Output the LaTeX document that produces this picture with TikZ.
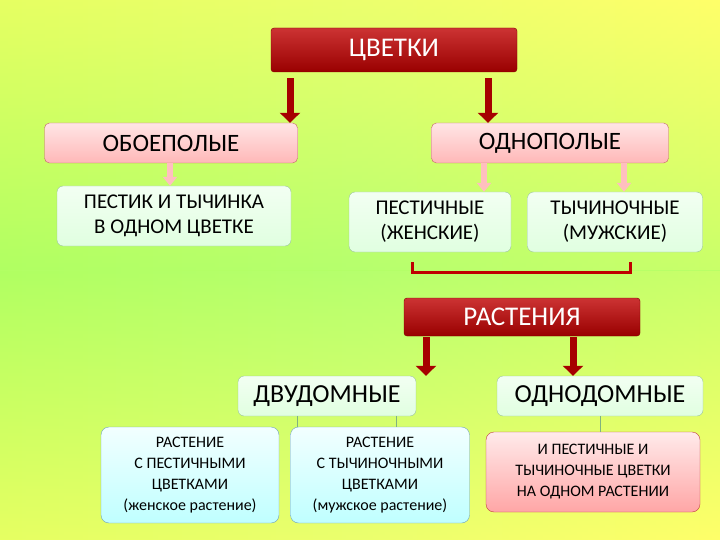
\documentclass[tikz,border=0pt]{standalone}
\usepackage{fontspec}
\usetikzlibrary{arrows.meta}
\setmainfont{Carlito}
\begin{document}
\begin{tikzpicture}[x=1pt,y=-1pt,
 redbox/.style={draw=red!50!black,rounded corners=3pt,top color=red!75!black!80,bottom color=red!60!black,text=white,font=\fontsize{27}{28}\selectfont},
 pinkbox/.style={draw=red!60!black!60,rounded corners=5pt,top color=red!10,bottom color=red!28,text=black,font=\fontsize{25}{26}\selectfont},
 greenbox/.style={draw=green!40!black!40,rounded corners=6pt,top color=white!95!green,bottom color=green!12,text=black,font=\fontsize{21}{25}\selectfont,align=center},
 bluebox/.style={draw=cyan!40!gray,rounded corners=8pt,top color=cyan!5,bottom color=cyan!25,text=black,font=\fontsize{16}{21}\selectfont,align=center},
 pinkbig/.style={draw=red!50!gray,rounded corners=8pt,top color=red!8,bottom color=red!35,text=black,font=\fontsize{16}{21}\selectfont,align=center},
 bigarrow/.style={-{Triangle[width=20pt,length=10pt]},line width=7pt,red!65!black},
 smallarrow/.style={-{Triangle[width=14pt,length=9pt,fill=red!25]},line width=6pt,draw=red!25},
 thin/.style={draw=green!40!black!50,line width=1pt}]
\useasboundingbox (0,0) rectangle (720,540);
\shade[left color=green!50!yellow!65, right color=yellow!55, middle color=yellow!50!green!50] (0,0) rectangle (720,540);
\shade[top color=yellow!60, bottom color=green!50!yellow!60,opacity=0.7] (0,0) rectangle (720,270);
\shade[top color=green!50!yellow!60, bottom color=yellow!60,opacity=0.7] (0,270) rectangle (720,540);
\node[redbox,minimum width=246pt,minimum height=44pt] (c) at (394,50) {ЦВЕТКИ};
\node[pinkbox,minimum width=253pt,minimum height=40pt] (ob) at (171,143) {ОБОЕПОЛЫЕ};
\node[pinkbox,minimum width=237pt,minimum height=40pt] (od) at (550,143) {ОДНОПОЛЫЕ};
\node[greenbox,minimum width=234pt,minimum height=60pt] (pt) at (174,216) {ПЕСТИК И ТЫЧИНКА\\В ОДНОМ ЦВЕТКЕ};
\node[greenbox,minimum width=162pt,minimum height=60pt] (pe) at (430,222) {ПЕСТИЧНЫЕ\\(ЖЕНСКИЕ)};
\node[greenbox,minimum width=175pt,minimum height=60pt] (ty) at (615,222) {ТЫЧИНОЧНЫЕ\\(МУЖСКИЕ)};
\node[redbox,minimum width=236pt,minimum height=38pt] (r) at (522,317) {РАСТЕНИЯ};
\node[greenbox,font=\fontsize{26}{27}\selectfont,minimum width=178pt,minimum height=40pt] (dv) at (327,396) {ДВУДОМНЫЕ};
\node[greenbox,font=\fontsize{26}{27}\selectfont,minimum width=206pt,minimum height=40pt] (on) at (600,396) {ОДНОДОМНЫЕ};
\node[bluebox,minimum width=178pt,minimum height=96pt] (b1) at (190,475) {РАСТЕНИЕ\\С ПЕСТИЧНЫМИ\\ЦВЕТКАМИ\\(женское растение)};
\node[bluebox,minimum width=179pt,minimum height=96pt] (b2) at (380,475) {РАСТЕНИЕ\\С ТЫЧИНОЧНЫМИ\\ЦВЕТКАМИ\\(мужское растение)};
\node[pinkbig,minimum width=214pt,minimum height=80pt] (p3) at (593,472) {И ПЕСТИЧНЫЕ И\\ТЫЧИНОЧНЫЕ ЦВЕТКИ\\НА ОДНОМ РАСТЕНИИ};
\draw[bigarrow] (c.south -| 290,0) ++(0,6) coordinate (a1) -- (ob.north -| a1);
\draw[bigarrow] (c.south -| 488,0) ++(0,6) coordinate (a2) -- (od.north -| a2);
\draw[smallarrow] (ob.south -| 170,0) -- (pt.north -| 170,0);
\draw[smallarrow] (od.south -| 484,0) -- (pe.north -| 484,0);
\draw[smallarrow] (od.south -| 624,0) -- (ty.north -| 624,0);
\coordinate (k1) at (412,262); \coordinate (k2) at (630,262);
\draw[red!75!black,line width=3pt] (k1) -- (412,272) -- (630,272) -- (k2);
\draw[bigarrow] (r.south -| 426,0) ++(0,1) coordinate (a3) -- (dv.north -| a3);
\draw[bigarrow] (r.south -| 573,0) ++(0,1) coordinate (a4) -- (on.north -| a4);
\draw[thin] (dv.south -| 297,0) -- (b1.north -| 297,0);
\draw[thin] (dv.south -| 396,0) -- (b2.north -| 396,0);
\draw[thin] (on.south -| 600,0) -- (p3.north -| 600,0);
\end{tikzpicture}
\end{document}
